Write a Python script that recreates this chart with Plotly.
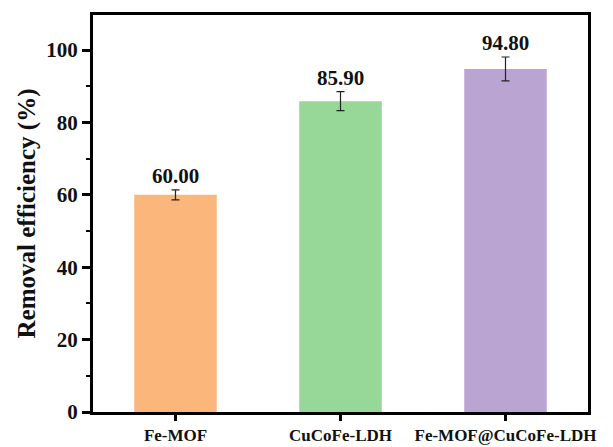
import plotly.graph_objects as go

categories = ["Fe-MOF", "CuCoFe-LDH", "Fe-MOF@CuCoFe-LDH"]
values = [60.00, 85.90, 94.80]
errors = [1.4, 2.6, 3.3]
colors = ["#fab67b", "#97d797", "#b9a4d2"]
yticks = [0, 20, 40, 60, 80, 100]

FONT = "Liberation Serif, Times New Roman, serif"

fig = go.Figure()
fig.add_trace(go.Bar(
    x=categories, y=values, width=0.5,
    marker=dict(color=colors, line=dict(width=0)),
    error_y=dict(type="data", array=errors, visible=True, color="#222222",
                 thickness=1.2, width=4),
    showlegend=False,
))

for c, v, e in zip(categories, values, errors):
    fig.add_annotation(x=c, y=v + e, text=f"{v:.2f}", showarrow=False,
                       yanchor="bottom", yshift=0,
                       font=dict(family=FONT, size=21, color="#111111", weight="bold"))

# page body has an 8px default margin, so the figure is sized/offset to compensate
fig.update_layout(
    width=605, height=439,
    margin=dict(l=85, r=25, t=7, b=35),
    plot_bgcolor="white", paper_bgcolor="white",
)
fig.update_xaxes(
    range=[-0.5, 2.5], showline=True, linecolor="black", linewidth=3, mirror=True,
    ticks="outside", ticklen=6, tickwidth=2.5, tickcolor="black",
    tickfont=dict(family=FONT, size=17, color="#111111", weight="bold"),
    showgrid=False, automargin=False,
)
fig.update_yaxes(
    range=[0, 109.7], showline=True, linecolor="black", linewidth=3, mirror=True,
    tickvals=yticks, ticks="outside", ticklen=8, tickwidth=2.5, tickcolor="black",
    minor=dict(tickvals=[10, 30, 50, 70, 90], ticks="outside", ticklen=4,
               tickwidth=2, tickcolor="black", showgrid=False),
    tickfont=dict(family=FONT, size=21, color="#111111", weight="bold"),
    showgrid=False, zeroline=False, automargin=False,
    title=dict(text="Removal efficiency (%)", standoff=4,
               font=dict(family=FONT, size=25, color="#111111", weight="bold")),
)

fig.write_html("out.html")
